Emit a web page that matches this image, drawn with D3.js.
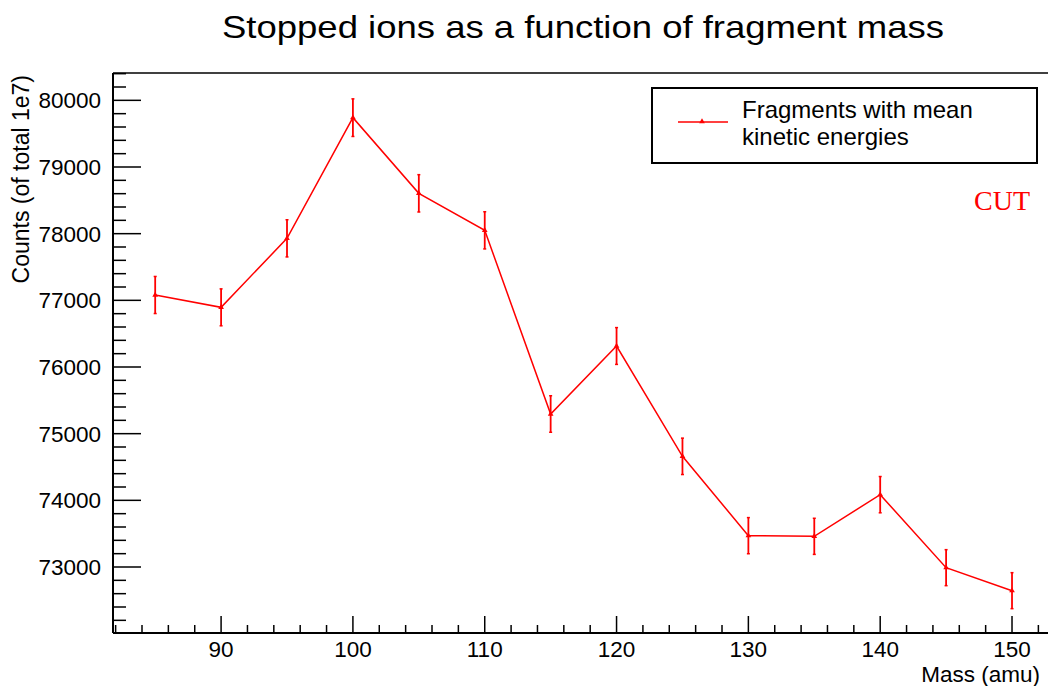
<!DOCTYPE html>
<html>
<head>
<meta charset="utf-8">
<script src="https://cdn.jsdelivr.net/npm/d3@7"></script>
<style>
  html, body { margin: 0; padding: 0; background: #fff; }
  svg { display: block; font-family: "Liberation Sans", Arial, Helvetica, sans-serif; }
</style>
</head>
<body>
<svg id="chart" width="1048" height="686"></svg>
<script>
// Fragment mass (amu)
const masses = [85, 90, 95, 100, 105, 110, 115, 120, 125, 130, 135, 140, 145, 150];
// Stopped-ion counts (out of 1e7 total)
const counts = [77080, 76895, 77930, 79740, 78605, 78050, 75295, 76315, 74660, 73470, 73460, 74085, 72990, 72645];
// Statistical uncertainty on each count
const errors = [278, 277, 279, 282, 280, 279, 274, 276, 273, 271, 271, 272, 270, 270];

const xTicks = [90, 100, 110, 120, 130, 140, 150];
const yTicks = [73000, 74000, 75000, 76000, 77000, 78000, 79000, 80000];

const titleText = "Stopped ions as a function of fragment mass";
const xTitle = "Mass (amu)";
const yTitle = "Counts (of total 1e7)";
const legendLines = ["Fragments with mean", "kinetic energies"];
const cutLabel = "CUT";

const svg = d3.select("#chart");
const plotL = 113, plotR = 1048, plotT = 73, plotB = 633;
const red = "#ff0000";

const x = d3.scaleLinear().domain([81.8, 152.73]).range([plotL, plotR]);
const y = d3.scaleLinear().domain([72010, 80410]).range([plotB, plotT]);

// Top border of the frame
svg.append("line").attr("x1", plotL).attr("x2", plotR).attr("y1", plotT).attr("y2", plotT)
  .attr("stroke", "#000").attr("stroke-width", 1.5);

// Y axis with major/minor ticks pointing into the plot
const yAxis = svg.append("g").attr("transform", `translate(${plotL},0)`);
const yMinor = d3.range(72200, 80401, 200).filter(v => v % 1000 !== 0);
yAxis.selectAll("line.minor").data(yMinor).join("line").attr("class", "minor")
  .attr("x1", 0).attr("x2", 13).attr("y1", d => y(d)).attr("y2", d => y(d))
  .attr("stroke", "#000").attr("stroke-width", 1.5);
yAxis.selectAll("line.major").data(yTicks).join("line").attr("class", "major")
  .attr("x1", 0).attr("x2", 28).attr("y1", d => y(d)).attr("y2", d => y(d))
  .attr("stroke", "#000").attr("stroke-width", 1.5);
yAxis.selectAll("text").data(yTicks).join("text")
  .attr("x", -12).attr("y", d => y(d)).attr("dy", "0.36em")
  .attr("text-anchor", "end").attr("font-size", 22.5).attr("fill", "#000")
  .text(d => d);
yAxis.append("line").attr("x1", 0).attr("x2", 0).attr("y1", plotT).attr("y2", plotB)
  .attr("stroke", "#000").attr("stroke-width", 2);

// X axis with ticks pointing up
const xAxis = svg.append("g").attr("transform", `translate(0,${plotB})`);
const xMinor = d3.range(82, 153, 2).filter(v => v % 10 !== 0);
xAxis.selectAll("line.minor").data(xMinor).join("line").attr("class", "minor")
  .attr("x1", d => x(d)).attr("x2", d => x(d)).attr("y1", 0).attr("y2", -8)
  .attr("stroke", "#000").attr("stroke-width", 1.5);
xAxis.selectAll("line.major").data(xTicks).join("line").attr("class", "major")
  .attr("x1", d => x(d)).attr("x2", d => x(d)).attr("y1", 0).attr("y2", -17)
  .attr("stroke", "#000").attr("stroke-width", 1.5);
xAxis.selectAll("text").data(xTicks).join("text")
  .attr("x", d => x(d)).attr("y", 24)
  .attr("text-anchor", "middle").attr("font-size", 22.5).attr("fill", "#000")
  .text(d => d);
xAxis.append("line").attr("x1", plotL).attr("x2", plotR).attr("y1", 0).attr("y2", 0)
  .attr("stroke", "#000").attr("stroke-width", 2);

// Axis titles
svg.append("text").attr("x", 1040).attr("y", 682).attr("text-anchor", "end")
  .attr("font-size", 22.5).attr("fill", "#000").text(xTitle);
svg.append("text").attr("transform", "translate(29,75) rotate(-90)")
  .attr("text-anchor", "end").attr("font-size", 23).attr("fill", "#000").text(yTitle);

// Title
svg.append("text").attr("x", 583).attr("y", 38).attr("text-anchor", "middle")
  .attr("font-size", 32).attr("fill", "#000")
  .attr("textLength", 722).attr("lengthAdjust", "spacingAndGlyphs")
  .text(titleText);

// Data series
const data = masses.map((m, i) => ({ m, c: counts[i], e: errors[i] }));

const line = d3.line().x(d => x(d.m)).y(d => y(d.c));
svg.append("path").datum(data).attr("d", line)
  .attr("fill", "none").attr("stroke", red).attr("stroke-width", 1.5);

const tri = d3.symbol().type(d3.symbolTriangle).size(14);

const pts = svg.append("g").selectAll("g").data(data).join("g");
pts.append("line")
  .attr("x1", d => x(d.m)).attr("x2", d => x(d.m))
  .attr("y1", d => y(d.c + d.e)).attr("y2", d => y(d.c - d.e))
  .attr("stroke", red).attr("stroke-width", 1.8);
pts.append("line")
  .attr("x1", d => x(d.m) - 1.5).attr("x2", d => x(d.m) + 1.5)
  .attr("y1", d => y(d.c + d.e)).attr("y2", d => y(d.c + d.e))
  .attr("stroke", red).attr("stroke-width", 1.5);
pts.append("line")
  .attr("x1", d => x(d.m) - 1.5).attr("x2", d => x(d.m) + 1.5)
  .attr("y1", d => y(d.c - d.e)).attr("y2", d => y(d.c - d.e))
  .attr("stroke", red).attr("stroke-width", 1.5);
pts.append("path").attr("d", tri)
  .attr("transform", d => `translate(${x(d.m)},${y(d.c)})`)
  .attr("fill", red);

// Legend
const lg = svg.append("g");
lg.append("rect").attr("x", 652).attr("y", 88).attr("width", 385).attr("height", 75)
  .attr("fill", "#fff").attr("stroke", "#000").attr("stroke-width", 2);
lg.append("line").attr("x1", 678).attr("x2", 728).attr("y1", 122).attr("y2", 122)
  .attr("stroke", red).attr("stroke-width", 1.5);
lg.append("path").attr("d", tri).attr("transform", "translate(702,121.5)").attr("fill", red);
lg.selectAll("text").data(legendLines).join("text")
  .attr("x", 742).attr("y", (d, i) => 118 + i * 27)
  .attr("font-size", 24).attr("fill", "#000").text(d => d);

// Cut annotation
svg.append("text").attr("x", 1030).attr("y", 210).attr("text-anchor", "end")
  .style("font-family", "'Liberation Serif', 'Times New Roman', serif")
  .attr("font-size", 28).attr("fill", red).text(cutLabel);
</script>
</body>
</html>
